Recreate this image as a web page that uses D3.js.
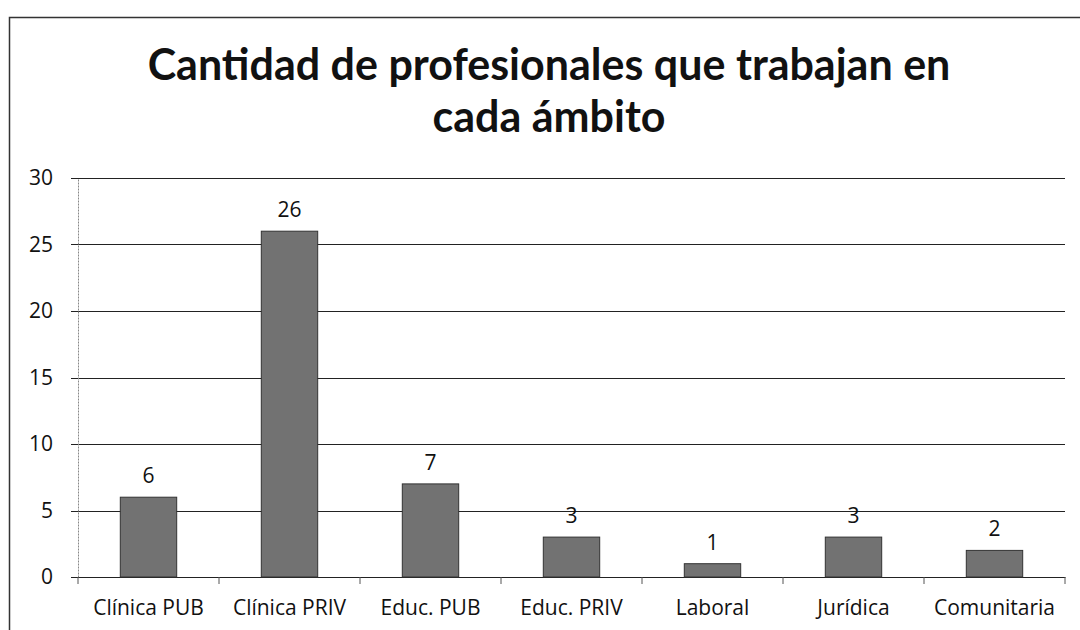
<!DOCTYPE html>
<html>
<head>
<meta charset="utf-8">
<script src="https://cdn.jsdelivr.net/npm/d3@7"></script>
<style>
  body { margin: 0; background: #fff; }
  svg { display: block; }
</style>
</head>
<body>
<div id="chart"></div>
<script>
var categories = ["Clínica PUB", "Clínica PRIV", "Educ. PUB", "Educ. PRIV", "Laboral", "Jurídica", "Comunitaria"];
var values = [6, 26, 7, 3, 1, 3, 2];
var yTicks = [0, 5, 10, 15, 20, 25, 30];
var titleLines = ["Cantidad de profesionales que trabajan en", "cada ámbito"];

var W = 1080, H = 630;
var margin = {top: 178, right: 15, bottom: 53, left: 78};
var width = W - margin.left - margin.right;
var height = H - margin.top - margin.bottom;

var svg = d3.select("#chart").append("svg")
    .attr("width", W)
    .attr("height", H);

// chart frame
svg.append("rect")
    .attr("x", 9.5).attr("y", 17.5)
    .attr("width", 1100).attr("height", 700)
    .attr("fill", "none")
    .attr("stroke", "#333")
    .attr("stroke-width", 1.5);

svg.selectAll(".title")
    .data(titleLines)
    .enter().append("text")
    .attr("class", "title")
    .attr("x", 549)
    .attr("y", function(d, i){ return 80 + i * 52; })
    .attr("text-anchor", "middle")
    .attr("font-family", "Lato, 'Open Sans', sans-serif")
    .attr("font-weight", "bold")
    .attr("font-size", "43px")
    .attr("fill", "#111")
    .text(function(d){ return d; });

var g = svg.append("g")
    .attr("transform", "translate(" + margin.left + "," + margin.top + ")");

var x = d3.scaleBand()
    .domain(categories)
    .range([0, width])
    .paddingInner(0.6)
    .paddingOuter(0.3);

var y = d3.scaleLinear()
    .domain([0, 30])
    .range([height, 0]);

// gridlines
g.selectAll(".grid")
    .data(yTicks)
    .enter().append("line")
    .attr("class", "grid")
    .attr("x1", -7).attr("x2", width)
    .attr("y1", function(d){ return Math.round(y(d)) + 0.5; })
    .attr("y2", function(d){ return Math.round(y(d)) + 0.5; })
    .attr("stroke", "#222")
    .attr("stroke-width", 1.2);

// y axis
var yAxis = g.append("g")
    .call(d3.axisLeft(y).tickValues(yTicks).tickSize(0).tickPadding(25));
yAxis.select(".domain")
    .attr("stroke", "#888")
    .attr("stroke-dasharray", "2,1");
yAxis.selectAll("text")
    .attr("font-family", "'Open Sans', sans-serif")
    .attr("font-size", "21px")
    .attr("fill", "#111");

// x axis
var xAxis = g.append("g")
    .attr("transform", "translate(0," + height + ")")
    .call(d3.axisBottom(x).tickSize(0).tickPadding(23));
xAxis.select(".domain").attr("stroke", "#222");
xAxis.selectAll("text")
    .attr("font-family", "'Open Sans', sans-serif")
    .attr("font-size", "21px")
    .attr("fill", "#111");

// category boundary ticks
var bounds = d3.range(categories.length + 1).map(function(i){ return x.step() * i; });
g.selectAll(".xtick")
    .data(bounds)
    .enter().append("line")
    .attr("class", "xtick")
    .attr("x1", function(d){ return d; })
    .attr("x2", function(d){ return d; })
    .attr("y1", height).attr("y2", height + 7)
    .attr("stroke", "#555");

// bars
g.selectAll(".bar")
    .data(values)
    .enter().append("rect")
    .attr("class", "bar")
    .attr("x", function(d, i){ return x(categories[i]); })
    .attr("y", function(d){ return y(d); })
    .attr("width", x.bandwidth())
    .attr("height", function(d){ return height - y(d); })
    .attr("fill", "#727272")
    .attr("stroke", "#333")
    .attr("stroke-width", 1);

// value labels
g.selectAll(".val")
    .data(values)
    .enter().append("text")
    .attr("class", "val")
    .attr("x", function(d, i){ return x(categories[i]) + x.bandwidth() / 2; })
    .attr("y", function(d){ return y(d) - 14; })
    .attr("text-anchor", "middle")
    .attr("font-family", "'Open Sans', sans-serif")
    .attr("font-size", "21px")
    .attr("fill", "#111")
    .text(function(d){ return d; });
</script>
</body>
</html>
